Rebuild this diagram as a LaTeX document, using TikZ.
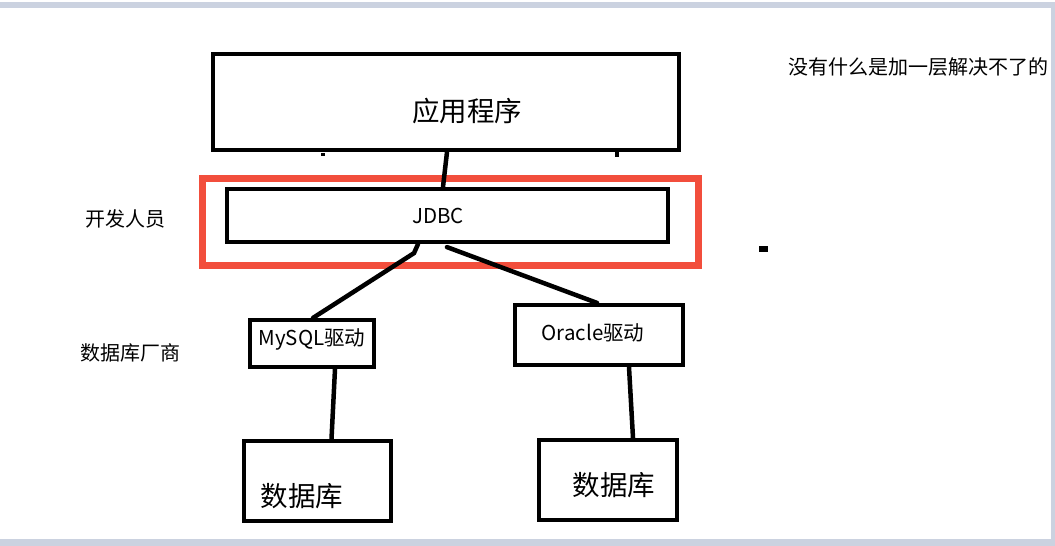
\documentclass[tikz,border=0pt]{standalone}
\usepackage{fontspec}
\setmainfont{Noto Sans CJK SC}
\usetikzlibrary{positioning,calc}
\definecolor{framered}{RGB}{242,78,60}
\definecolor{bargray}{RGB}{203,210,224}

\begin{document}
\begin{tikzpicture}[x=1pt,y=-1pt,inner sep=0pt,
  blk/.style={draw,rectangle,line width=4.2pt},
  lnk/.style={line width=4.5pt,line cap=round}]
\useasboundingbox (0,0) rectangle (1055,546);
\fill[white] (0,0) rectangle (1055,546);
\fill[bargray] (0,2) rectangle (1055,8); \fill[bargray] (0,539) rectangle (1055,546); \fill[bargray] (1051,8) rectangle (1055,539);
% boxes
\node[blk,minimum width=466pt,minimum height=96pt](app) at (446,102){};
\node[blk,minimum width=441pt,minimum height=53pt](jdbc) at (447.5,215.5){};
\node[draw=framered,line width=7pt,minimum width=496pt,minimum height=87pt](wrap) at (450.5,222){};
\node[blk,minimum width=124pt,minimum height=47pt](mysql) at (312,343.5){};
\node[blk,minimum width=168pt,minimum height=60pt](oracle) at (599,335){};
\node[blk,minimum width=147pt,minimum height=80pt](dbl) at (317.5,481){};
\node[blk,minimum width=138pt,minimum height=80pt](dbr) at (608,480){};
% texts
\node[font=\fontsize{27.5}{28}\selectfont] (apptext) at ([shift={(21,9)}]app.center) {应用程序};
\node[font=\fontsize{20.5}{21}\selectfont] (jdbctext) at ([shift={(-9.5,0.5)}]jdbc.center) {JDBC};
\node[font=\fontsize{20.5}{21}\selectfont] (mysqltext) at ([shift={(0,-4)}]mysql.center) {MySQL驱动};
\node[font=\fontsize{20.5}{21}\selectfont] (oracletext) at ([shift={(-6,-2)}]oracle.center) {Oracle驱动};
\node[font=\fontsize{27.5}{28}\selectfont] (dbltext) at ([shift={(-15.5,15)}]dbl.center) {数据库};
\node[font=\fontsize{27.5}{28}\selectfont] (dbrtext) at ([shift={(6,5)}]dbr.center) {数据库};
\node[font=\fontsize{20}{20}\selectfont] (dev) at (125,219) {开发人员};
\node[font=\fontsize{20}{20}\selectfont] (vendor) at (130,353) {数据库厂商};
\node[font=\fontsize{20}{20}\selectfont] (motto) at (918,67) {没有什么是加一层解决不了的};
% connectors
\draw[lnk] ([xshift=1pt]app.south) -- ([xshift=-4.5pt]jdbc.north);
\draw[lnk] ([xshift=-29.5pt]jdbc.south) -- ([shift={(-33.5,9)}]jdbc.south) -- ([xshift=1pt]mysql.north);
\draw[lnk] ([shift={(-0.5,3)}]jdbc.south) -- ([xshift=-2pt]oracle.north);
\draw[lnk] ([xshift=23pt]mysql.south) -- ([xshift=14pt]dbl.north);
\draw[lnk] ([xshift=30pt]oracle.south) -- ([xshift=25pt]dbr.north);
% marks
\fill (759,246) rectangle (768,252);
\fill (321,153) rectangle (325,156); \fill (615,151) rectangle (619,157);
\end{tikzpicture}
\end{document}
